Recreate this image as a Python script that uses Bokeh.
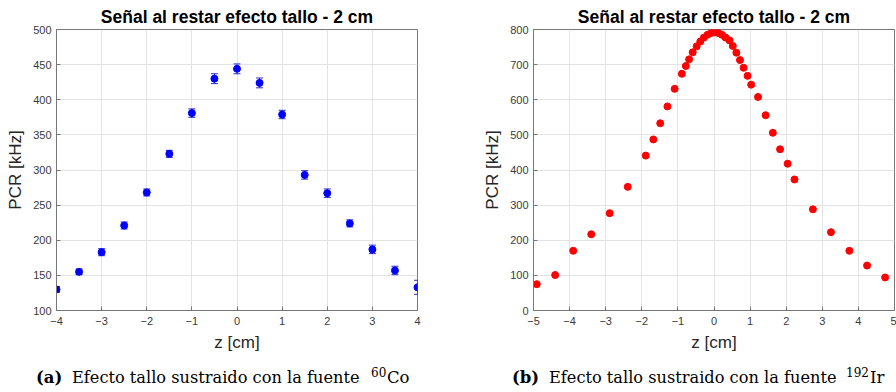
from bokeh.plotting import figure
from bokeh.models import Range1d, Whisker, ColumnDataSource, FixedTicker, TeeHead, Div
from bokeh.layouts import row, column
from bokeh.embed import file_html
from bokeh.resources import INLINE

# ---- data ----
title_text = "Señal al restar efecto tallo - 2 cm"
x_label = "z [cm]"
y_label = "PCR [kHz]"

co_z = [-4.0, -3.5, -3.0, -2.5, -2.0, -1.5, -1.0, -0.5, 0.0, 0.5, 1.0, 1.5, 2.0, 2.5, 3.0, 3.5, 4.0]
co_pcr = [130, 155, 183, 221, 268, 323, 381, 430, 444, 424, 379, 293, 267, 224, 187, 157, 133]
co_err = [4, 4, 5, 5, 5, 5, 6, 7, 7, 7, 6, 6, 6, 5, 6, 6, 10]

ir_z = [-4.91, -4.40, -3.90, -3.40, -2.89, -2.39, -1.89, -1.68, -1.49, -1.29, -1.09,
        -0.89, -0.78, -0.69, -0.59, -0.48, -0.38, -0.28, -0.18, -0.08, 0.02, 0.12,
        0.22, 0.32, 0.43, 0.52, 0.62, 0.72, 0.82, 0.93, 1.03, 1.22, 1.43, 1.63,
        1.83, 2.04, 2.23, 2.74, 3.24, 3.75, 4.24, 4.74]
ir_pcr = [75, 101, 170, 217, 277, 352, 441, 487, 533, 581, 631,
          674, 696, 715, 735, 752, 766, 777, 785, 790, 792, 790,
          785, 777, 769, 753, 734, 713, 691, 668, 643, 608, 556, 506,
          459, 418, 373, 288, 223, 170, 128, 94]

co_xticks = [-4, -3, -2, -1, 0, 1, 2, 3, 4]
co_yticks = [100, 150, 200, 250, 300, 350, 400, 450, 500]
ir_xticks = [-5, -4, -3, -2, -1, 0, 1, 2, 3, 4, 5]
ir_yticks = [0, 100, 200, 300, 400, 500, 600, 700, 800]

cap_a = ["(a)", "Efecto tallo sustraido con la fuente", "60", "Co"]
cap_b = ["(b)", "Efecto tallo sustraido con la fuente", "192", "Ir"]

SANS = "Liberation Sans"
SERIF = "DejaVu Serif"
TICK_COLOR = "#3a3a3a"
FRAME_COLOR = "#777777"
MAIN_H = 356
CAP_H = 36


def make_fig(width, bl, br, xr, yr, xticks, yticks):
    p = figure(width=width, height=MAIN_H, output_backend="svg", toolbar_location=None,
               x_range=Range1d(*xr), y_range=Range1d(*yr),
               min_border_left=bl, min_border_right=br, min_border_top=29,
               min_border_bottom=MAIN_H - 310, title=title_text)
    p.title.text_font = SANS
    p.title.text_font_size = "17.5px"
    p.title.text_font_style = "bold"
    p.title.text_color = "#000000"
    p.title.align = "center"
    p.title.standoff = 5
    p.outline_line_color = FRAME_COLOR
    p.outline_line_width = 1
    p.background_fill_color = "white"
    p.border_fill_color = "white"
    for ax, ticks in ((p.xaxis[0], xticks), (p.yaxis[0], yticks)):
        ax.ticker = FixedTicker(ticks=ticks)
        ax.major_tick_in = 4
        ax.major_tick_out = 0
        ax.minor_tick_line_color = None
        ax.axis_line_color = FRAME_COLOR
        ax.major_tick_line_color = FRAME_COLOR
        ax.major_label_text_font = SANS
        ax.major_label_text_font_size = "11px"
        ax.major_label_text_color = TICK_COLOR
        ax.axis_label_text_font = SANS
        ax.axis_label_text_font_size = "17px"
        ax.axis_label_text_font_style = "normal"
        ax.axis_label_text_color = "#262626"
    p.xaxis.axis_label = x_label
    p.yaxis.axis_label = y_label
    p.xaxis.major_label_standoff = 6
    p.yaxis.major_label_standoff = 5
    p.xaxis.axis_label_standoff = 5
    p.yaxis.axis_label_standoff = 5
    p.xgrid.ticker = FixedTicker(ticks=xticks)
    p.ygrid.ticker = FixedTicker(ticks=yticks)
    p.grid.grid_line_color = "#e3e3e3"
    p.grid.grid_line_width = 1
    return p


def make_caption(width, parts, xs):
    bold, main, sup, elem = parts
    span = ("position:absolute;white-space:nowrap;line-height:1;"
            "font-family:'DejaVu Serif';color:#000;")
    html = (
        f'<div style="position:relative;width:{width}px;height:{CAP_H}px;overflow:hidden;">'
        f'<span style="{span}left:{xs[0]}px;top:14px;font-size:16.5px;font-weight:bold;">{bold}</span>'
        f'<span style="{span}left:{xs[1]}px;top:14px;font-size:16.2px;">{main}</span>'
        f'<span style="{span}left:{xs[2]}px;top:11px;font-size:12px;">{sup}</span>'
        f'<span style="{span}left:{xs[3]}px;top:14px;font-size:16.5px;">{elem}</span>'
        '</div>'
    )
    return Div(text=html, width=width, height=CAP_H, margin=0)


# ---- left: 60Co ----
p1 = make_fig(448, 56, 31, (-4, 4), (100, 500), co_xticks, co_yticks)
src1 = ColumnDataSource(dict(z=co_z, pcr=co_pcr,
                             lo=[v - e for v, e in zip(co_pcr, co_err)],
                             hi=[v + e for v, e in zip(co_pcr, co_err)]))
p1.add_layout(Whisker(source=src1, base="z", lower="lo", upper="hi", dimension="height",
                      line_color="#2b2bd6", line_width=1,
                      upper_head=TeeHead(size=7, line_color="#2b2bd6", line_width=1),
                      lower_head=TeeHead(size=7, line_color="#2b2bd6", line_width=1)))
p1.scatter("z", "pcr", source=src1, size=7, marker="circle",
           fill_color="#0000ff", line_color="#0000ff")
d1 = make_caption(448, cap_a, [36, 72, 371, 387])

# ---- right: 192Ir ----
p2 = make_fig(448, 85, 2, (-5, 5), (0, 800), ir_xticks, ir_yticks)
src2 = ColumnDataSource(dict(z=ir_z, pcr=ir_pcr))
p2.scatter("z", "pcr", source=src2, size=7, marker="circle",
           fill_color="#ff0000", line_color="#ff0000")
d2 = make_caption(448, cap_b, [64, 101, 398, 422])

layout = column(row(p1, p2), row(d1, d2))
open("out.html", "w").write(file_html(layout, INLINE))
